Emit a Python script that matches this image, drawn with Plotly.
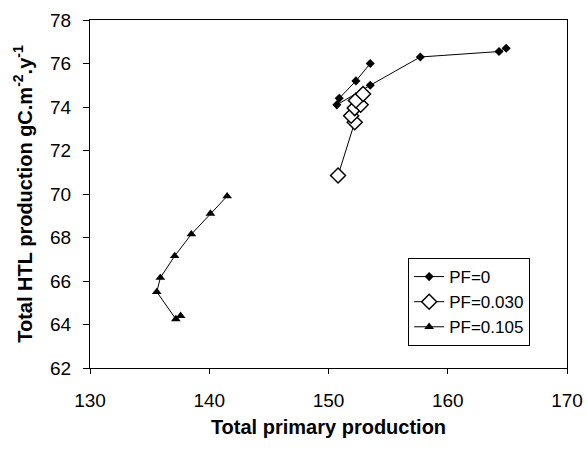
import plotly.graph_objects as go

pf0_x = [153.5, 152.3, 150.9, 150.7, 153.5, 157.7, 164.3, 164.9]
pf0_y = [76.0, 75.2, 74.4, 74.1, 75.0, 76.3, 76.55, 76.7]

pf030_x = [150.8, 152.2, 151.9, 152.2, 152.7, 152.3, 152.9]
pf030_y = [70.85, 73.3, 73.6, 73.95, 74.1, 74.3, 74.6]

pf105_x = [141.5, 140.1, 138.5, 137.1, 135.9, 135.6, 137.2, 137.6]
pf105_y = [69.9, 69.1, 68.15, 67.15, 66.15, 65.5, 64.25, 64.4]

series_names = ["PF=0", "PF=0.030", "PF=0.105"]
x_ticks = [130, 140, 150, 160, 170]
y_ticks = [62, 64, 66, 68, 70, 72, 74, 76, 78]

fig = go.Figure()
fig.add_trace(go.Scatter(x=pf0_x, y=pf0_y, mode="lines+markers", name=series_names[0],
                         legendgroup="a",
                         line=dict(color="black", width=1),
                         marker=dict(symbol="diamond", size=7, color="black")))
fig.add_trace(go.Scatter(x=pf030_x, y=pf030_y, mode="lines+markers", name=series_names[1],
                         legendgroup="b",
                         line=dict(color="black", width=1),
                         marker=dict(symbol="diamond", size=11.5, color="white",
                                     line=dict(color="black", width=1.5))))
fig.add_trace(go.Scatter(x=pf105_x, y=pf105_y, mode="lines+markers", name=series_names[2],
                         legendgroup="c",
                         line=dict(color="black", width=1),
                         marker=dict(symbol="triangle-up", size=8.5, color="black")))

font = "Liberation Sans, Arial, sans-serif"
fig.update_layout(
    width=587, height=450,
    margin=dict(l=90, r=20, t=20, b=82, autoexpand=False),
    paper_bgcolor="white", plot_bgcolor="white",
    font=dict(family=font, size=19, color="black"),
    showlegend=True,
    legend=dict(x=0.667, y=0.316, xanchor="left", yanchor="top",
                bordercolor="black", borderwidth=1, bgcolor="white",
                font=dict(size=17, family=font), tracegroupgap=0, itemwidth=30,
                traceorder="grouped"),
    xaxis=dict(range=[130, 170], tickvals=x_ticks, ticks="outside", ticklen=5,
               tickcolor="black", showline=True, linecolor="black", linewidth=1,
               mirror=True, showgrid=False, zeroline=False, ticklabelstandoff=10,
               automargin=False,
               title=dict(text="<b>Total primary production</b>", font=dict(size=20), standoff=10)),
    yaxis=dict(range=[62, 78], tickvals=y_ticks, ticks="outside", ticklen=6,
               tickcolor="black", showline=True, linecolor="black", linewidth=1,
               mirror=True, showgrid=False, zeroline=False, ticklabelstandoff=8,
               automargin=False,
               title=dict(text="<b>Total HTL production gC.m<sup>-2</sup>.y<sup>-1</sup></b>",
                          font=dict(size=20), standoff=12)),
)

fig.write_html("out.html")
